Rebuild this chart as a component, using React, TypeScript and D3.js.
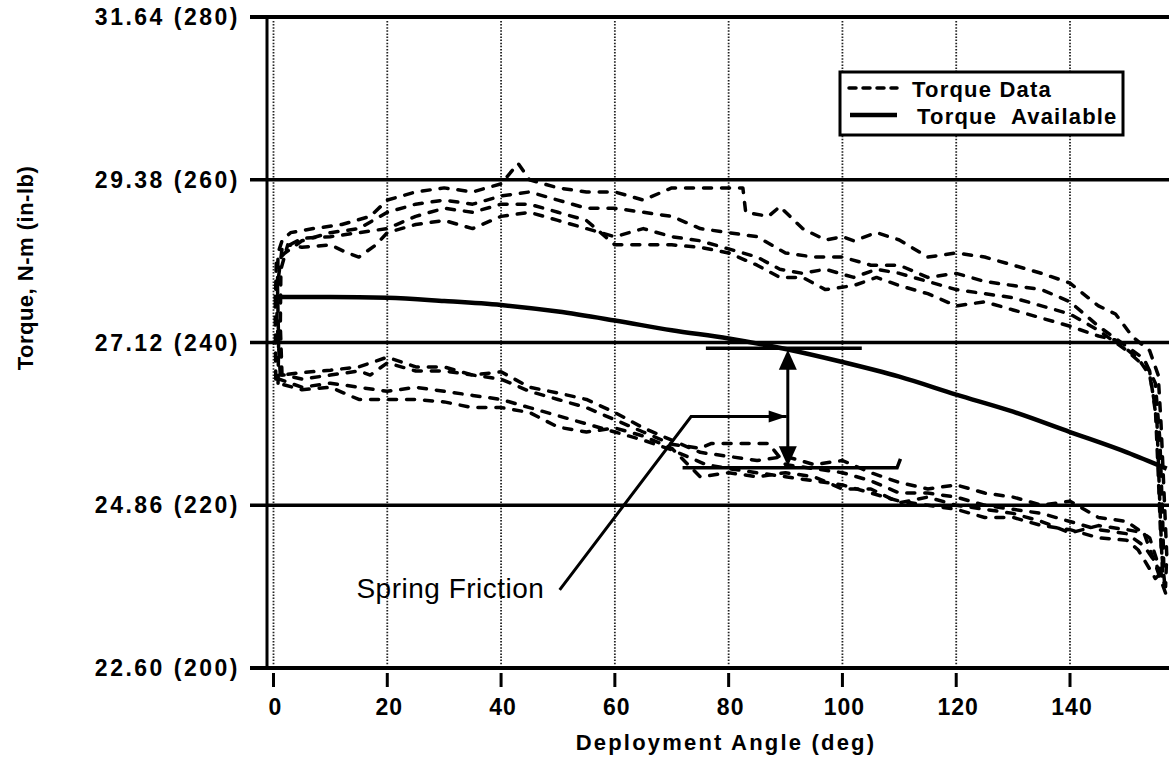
import React from 'react';
import * as d3 from 'd3';

// ---- axes / ticks ----
const xTicks = [0, 20, 40, 60, 80, 100, 120, 140];
const yTicks = [200, 220, 240, 260, 280];
const yTickLabels = ['22.60 (200)', '24.86 (220)', '27.12 (240)', '29.38 (260)', '31.64 (280)'];
const xTitle = 'Deployment Angle (deg)';
const yTitle = 'Torque, N-m (in-lb)';
const legendLabels = ['Torque Data', 'Torque  Available'];

// ---- Torque Available (solid) ----
const availAngle = [0, 10, 20, 30, 40, 50, 60, 70, 80, 90, 100, 110, 120, 130, 140, 150, 157];
const availTorque = [245.6, 245.6, 245.5, 245.1, 244.6, 243.8, 242.7, 241.5, 240.5, 239.2, 237.6, 235.8, 233.6, 231.5, 229.0, 226.5, 224.5];

// ---- Torque Data runs (dashed), [angle, torque in-lb] ----
const run1: [number, number][] = [
  [1.2, 236], [0.6, 243], [0.8, 251], [1.5, 252.5], [3, 253.5], [7, 254], [12, 254.5], [17, 255.5], [20, 257.5], [25, 258.5], [30, 259], [35, 258.5], [40, 259.5], [43, 262], [45, 260], [50, 259], [55, 258.5], [60, 258.5], [65, 257.5], [70, 259], [75, 259], [80, 259], [82.5, 259], [83, 256], [87, 255.5], [89, 256.7], [93, 254], [97, 252.6], [100, 253], [102, 252.5], [106, 253.5], [110, 252.6], [115, 250.5], [120, 251], [125, 250.5], [130, 249.5], [135, 248.5], [140, 247.3], [145, 244.5], [148, 243.5], [151, 240.7], [154, 239], [155.5, 236], [156, 230], [156.5, 222], [157, 214], [156.8, 210],
  [155, 213], [153, 215], [150, 216.5], [145, 217], [140, 218], [135, 219], [130, 219.5], [125, 220], [120, 221], [115, 221.5], [110, 221.5], [105, 223], [100, 224], [95, 224.5], [90, 225], [87, 227.6], [77, 227.6], [75, 227], [70, 227.5], [65, 229], [60, 230.5], [55, 232], [50, 233], [45, 234], [40, 235.5], [35, 236], [30, 236.5], [25, 236.5], [20, 237.5], [17, 236], [15, 236.5], [10, 236], [5, 235.5], [2, 236], [1.2, 236],
];
const run2: [number, number][] = [
  [0.4, 235.5], [0.3, 244], [0.5, 250], [2, 251], [5, 252.5], [10, 253.5], [15, 254], [20, 256], [25, 257], [30, 257.5], [35, 257], [40, 258], [45, 258.5], [50, 257.5], [55, 256.5], [60, 256.5], [65, 256], [70, 255.5], [75, 254], [80, 253.5], [85, 253], [90, 251], [95, 250.5], [100, 250.5], [105, 249.5], [110, 249.5], [115, 248], [120, 248.5], [125, 247.5], [130, 247], [135, 246.5], [140, 245], [145, 242], [150, 239.5], [153, 238], [155, 235], [155.8, 228], [156.3, 218], [156.5, 212],
  [155, 211], [152, 214.5], [150, 215.7], [145, 216], [140, 217], [135, 217.5], [130, 218.5], [125, 218.5], [120, 219.5], [115, 220], [110, 220.5], [105, 221.5], [100, 222.5], [95, 223], [90, 223.5], [85, 224], [80, 224.5], [76, 225], [70, 226.8], [65, 228], [60, 229], [55, 230], [50, 231], [45, 232], [40, 233], [35, 233.5], [30, 234], [25, 234.5], [20, 234], [15, 234.5], [10, 235], [5, 234.5], [1, 235.5], [0.4, 235.5],
];
const run3: [number, number][] = [
  [1.5, 236], [1.2, 242], [1.3, 249], [2.5, 252], [5, 251.7], [10, 252], [13, 251], [15, 250.5], [18, 252], [20, 253.5], [25, 254.5], [30, 255], [35, 254], [40, 255.5], [45, 256], [50, 255], [55, 254], [60, 253], [65, 254], [70, 253], [75, 252.5], [80, 251.5], [85, 250.5], [89, 249], [93, 248.5], [97, 249], [102, 248], [106, 249], [110, 248.5], [115, 247.5], [120, 246.5], [125, 246], [130, 245.5], [135, 244.5], [140, 243.5], [145, 241.5], [150, 239], [154, 236.5], [155.3, 230], [155.8, 220], [156.3, 211],
  [154, 216], [150, 218], [145, 218.5], [140, 220.5], [135, 220], [130, 221], [125, 221.5], [120, 222.5], [115, 222], [110, 222.8], [105, 224], [100, 225.5], [95, 225], [90, 226], [85, 225.5], [80, 226], [75, 226.5], [70, 228], [65, 229.5], [60, 231.4], [55, 233], [50, 233.8], [45, 234.5], [40, 236.4], [35, 236], [30, 237], [25, 237], [20, 238.2], [15, 237], [10, 236.6], [5, 236.3], [1.5, 236],
];
const run4: [number, number][] = [
  [0.8, 235], [0.9, 240], [0.7, 247], [1.5, 251.5], [5, 252.8], [10, 253], [15, 253.5], [20, 254], [25, 255.5], [30, 256.5], [35, 256], [40, 257], [45, 257], [50, 256], [55, 255], [60, 252], [65, 252], [70, 252], [75, 251.7], [80, 251], [85, 249.5], [89, 248], [93, 248], [97, 246.5], [102, 247], [106, 248], [110, 247], [115, 246], [120, 244.5], [125, 245], [130, 244], [135, 243], [140, 242], [145, 240.8], [148, 240.3], [152, 238], [154, 236], [155, 232], [155.5, 224], [156, 215], [156.8, 209.2],
  [153, 216.6], [150, 217], [145, 217.5], [140, 216.6], [135, 218], [130, 219], [125, 219.5], [120, 220], [115, 221], [110, 220.3], [105, 222], [100, 222], [95, 223.5], [90, 224], [85, 223.5], [80, 224], [75, 223.5], [70, 227], [65, 228.5], [60, 229.5], [55, 229], [50, 229.6], [45, 231.4], [40, 232], [35, 232], [30, 232.7], [25, 233], [20, 233], [15, 233], [10, 234.5], [5, 234.2], [0.8, 235],
];
const runs = [run1, run2, run3, run4];

// ---- Spring friction annotation (data coordinates) ----
const frictionTopLine: [number, number][] = [[76, 239.3], [103.4, 239.3]];
const frictionBottomLine: [number, number][] = [[71.9, 224.6], [109.6, 224.6], [110.2, 225.7]];
const frictionArrow: [number, number][] = [[90.4, 239.1], [90.4, 224.8]];
const leader: [number, number][] = [[50.3, 209.6], [73.4, 230.9], [90.2, 230.9]];
const frictionLabel = 'Spring Friction';
const frictionLabelAt: [number, number] = [31.1, 208.6];

const W = 1169;
const H = 758;
const FONT = '"Liberation Sans", Arial, Helvetica, sans-serif';

export default function App() {
  const x = d3.scaleLinear().domain([0, 140]).range([273.5, 1070]);
  const y = d3.scaleLinear().domain([200, 280]).range([668, 17]);
  const line = d3.line<[number, number]>().x((d) => x(d[0])).y((d) => y(d[1]));
  const availPts: [number, number][] = availAngle.map((a, i) => [a, availTorque[i]]);
  const availLine = d3.line<[number, number]>().x((d) => x(d[0])).y((d) => y(d[1])).curve(d3.curveMonotoneX);
  const axisX = 267;
  const right = W;

  const ax = x(frictionArrow[0][0]);
  const aTop = y(frictionArrow[0][1]);
  const aBot = y(frictionArrow[1][1]);
  const tip = leader[2];

  return (
    <div style={{ position: 'absolute', left: 0, top: 0, width: W, height: H, background: '#fff' }}>
      <svg width={W} height={H} style={{ display: 'block' }}>
        <rect x={0} y={0} width={W} height={H} fill="#fff" />
        {/* vertical dotted grid */}
        {xTicks.map((t) => (
          <line key={'vg' + t} x1={x(t)} x2={x(t)} y1={y(280) + 4} y2={y(200) - 3} stroke="#222" strokeWidth={1.8} strokeDasharray="1.5,1.6" />
        ))}
        {/* horizontal grid lines (extend left as ticks) */}
        {yTicks.map((t) => (
          <line key={'hg' + t} x1={250} x2={right} y1={y(t)} y2={y(t)} stroke="#000" strokeWidth={t === 200 ? 4 : t === 280 ? 4 : 3.5} />
        ))}
        {/* left axis */}
        <line x1={axisX} x2={axisX} y1={y(280) - 1} y2={y(200) + 1} stroke="#000" strokeWidth={3} />
        {/* x ticks */}
        {xTicks.map((t) => (
          <line key={'xt' + t} x1={x(t)} x2={x(t)} y1={673} y2={687} stroke="#000" strokeWidth={3} />
        ))}
        {xTicks.map((t) => (
          <text key={'xl' + t} x={x(t) + 2} y={715} textAnchor="middle" fontFamily={FONT} fontWeight="bold" fontSize={23} letterSpacing={1}>
            {t}
          </text>
        ))}
        {yTicks.map((t, i) => (
          <text key={'yl' + t} x={240} y={y(t) + 8} textAnchor="end" fontFamily={FONT} fontWeight="bold" fontSize={23} letterSpacing={2.5}>
            {yTickLabels[i]}
          </text>
        ))}
        <text x={726} y={750} textAnchor="middle" fontFamily={FONT} fontWeight="bold" fontSize={22} letterSpacing={2.2}>
          {xTitle}
        </text>
        <text transform={`translate(33,268) rotate(-90)`} textAnchor="middle" fontFamily={FONT} fontWeight="bold" fontSize={22} letterSpacing={0.5}>
          {yTitle}
        </text>

        {/* torque data */}
        {runs.map((r, i) => (
          <path key={'run' + i} d={line(r) || ''} fill="none" stroke="#000" strokeWidth={3.5} strokeDasharray="8,10" strokeLinecap="round" strokeLinejoin="round" />
        ))}
        {/* torque available */}
        <path d={availLine(availPts) || ''} fill="none" stroke="#000" strokeWidth={4.5} />

        {/* spring friction annotation */}
        <path d={line(frictionTopLine) || ''} fill="none" stroke="#000" strokeWidth={3.5} />
        <path d={line(frictionBottomLine) || ''} fill="none" stroke="#000" strokeWidth={3.5} />
        <line x1={ax} x2={ax} y1={aTop + 14} y2={aBot - 14} stroke="#000" strokeWidth={3} />
        <path d={`M${ax},${aTop} L${ax - 9},${aTop + 20} L${ax + 9},${aTop + 20} Z`} fill="#000" />
        <path d={`M${ax},${aBot} L${ax - 9},${aBot - 20} L${ax + 9},${aBot - 20} Z`} fill="#000" />
        <path d={line(leader) || ''} fill="none" stroke="#000" strokeWidth={3} />
        <path d={`M${x(tip[0])},${y(tip[1])} L${x(tip[0]) - 18},${y(tip[1]) - 6} L${x(tip[0]) - 18},${y(tip[1]) + 6} Z`} fill="#000" />
        <text x={x(frictionLabelAt[0])} y={y(frictionLabelAt[1])} textAnchor="middle" fontFamily={FONT} fontSize={28} letterSpacing={0.5}>
          {frictionLabel}
        </text>

        {/* legend */}
        <rect x={840} y={72} width={283} height={63} fill="#fff" stroke="#000" strokeWidth={3} />
        <line x1={849} x2={897} y1={88} y2={88} stroke="#000" strokeWidth={3.5} strokeDasharray="7,7" strokeLinecap="round" />
        <line x1={850} x2={897} y1={115} y2={115} stroke="#000" strokeWidth={4.5} />
        <text x={912} y={97} fontFamily={FONT} fontWeight="bold" fontSize={22} letterSpacing={1.2}>
          {legendLabels[0]}
        </text>
        <text x={917} y={124} fontFamily={FONT} fontWeight="bold" fontSize={22} letterSpacing={1.2} style={{ whiteSpace: 'pre' }}>
          {legendLabels[1]}
        </text>
      </svg>
    </div>
  );
}
